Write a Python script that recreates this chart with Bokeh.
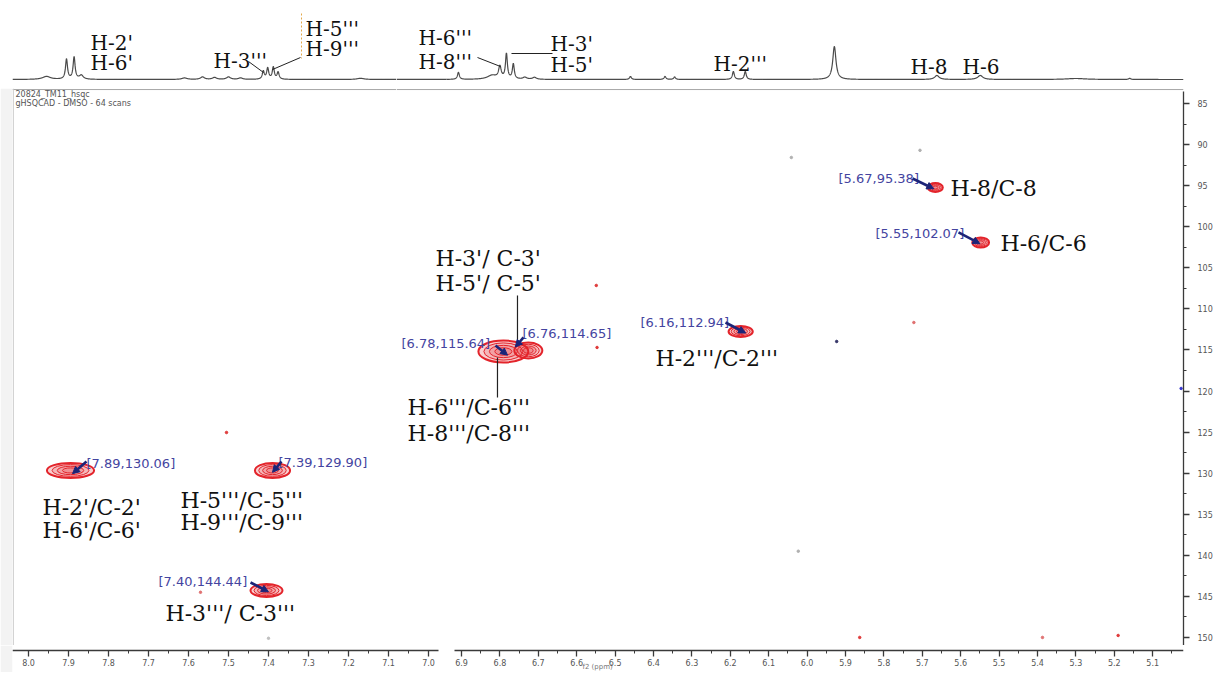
import numpy as np
from bokeh.plotting import figure
from bokeh.layouts import column, row
from bokeh.models import (Range1d, LinearAxis, SingleIntervalTicker, PrintfTickFormatter,
                          Arrow, NormalHead, Span, ColumnDataSource)
from bokeh.core.properties import value
from bokeh.embed import file_html
from bokeh.resources import INLINE

# ------------------------------------------------------------------ data
# 1H projection (top trace): peak position (ppm), height, half width (ppm)
h1_ppm = [7.955, 7.905, 7.886, 7.868, 7.61, 7.565, 7.535, 7.50, 7.47, 7.413, 7.402, 7.388, 7.376, 7.17,
          6.908, 6.82, 6.800, 6.783, 6.765, 6.735, 6.71, 6.46, 6.37, 6.345, 6.192, 6.161,
          5.929, 5.662, 5.549, 5.30, 5.16]
h1_int = [3, 20, 22, 4, 1.5, 2.5, 2, 2.5, 1.5, 8, 11, 12, 7, 1.2,
          7, 4, 12, 25, 15, 2, 2, 3, 3, 2.5, 8, 8,
          33, 4, 4, 1.0, 1.2]
h1_hw = [0.012, 0.003, 0.003, 0.006, 0.008, 0.006, 0.006, 0.006, 0.006, 0.003, 0.003, 0.003, 0.003, 0.01,
         0.003, 0.015, 0.004, 0.003, 0.003, 0.006, 0.006, 0.003, 0.003, 0.003, 0.003, 0.003,
         0.005, 0.007, 0.008, 0.03, 0.003]

# HSQC cross-peak contours: 1H ppm, 13C ppm, extent in 1H (ppm), extent in 13C (ppm)
xp_h = [7.895, 7.390, 7.405, 6.791, 6.726, 6.173, 5.666, 5.548]
xp_c = [129.67, 129.67, 144.28, 115.19, 115.07, 112.75, 95.23, 101.92]
xp_dh = [0.118, 0.088, 0.080, 0.130, 0.073, 0.063, 0.039, 0.044]
xp_dc = [1.83, 1.83, 1.58, 2.68, 1.95, 1.34, 1.10, 1.22]

# cursor read-outs printed on the spectrum (1H, 13C)
ann_h = [7.89, 7.39, 7.40, 6.78, 6.76, 6.16, 5.67, 5.55]
ann_c = [130.06, 129.90, 144.44, 115.64, 114.65, 112.94, 95.38, 102.07]

# isolated noise points
sp_h = [7.505, 6.547, 6.549, 5.722, 5.706, 6.041, 6.023, 5.863, 5.387, 5.19, 7.40, 5.923, 5.026, 7.57]
sp_c = [125.05, 114.7, 107.15, 111.66, 90.7, 91.57, 139.5, 150.0, 150.0, 149.76, 150.1, 113.97, 119.69, 144.5]
sp_col = ["#e03a3a", "#e03a3a", "#e03a3a", "#e07070", "#b0b0b0", "#b0b0b0", "#b0b0b0",
          "#e03a3a", "#e07070", "#e03a3a", "#c0c0c0", "#333366", "#3a3ad0", "#e07070"]

# assignments
top_text = ["H-2'", "H-6'", "H-3'''", "H-5'''", "H-9'''", "H-6'''", "H-8'''", "H-3'", "H-5'", "H-2'''", "H-8", "H-6"]
big_text = ["H-2'/C-2'", "H-6'/C-6'", "H-5'''/C-5'''", "H-9'''/C-9'''", "H-3'''/ C-3'''",
            "H-3'/ C-3'", "H-5'/ C-5'", "H-6'''/C-6'''", "H-8'''/C-8'''", "H-2'''/C-2'''", "H-8/C-8", "H-6/C-6"]
x_step = 0.1   # 1H tick spacing (ppm)
y_step = 5     # 13C tick spacing (ppm)

# ------------------------------------------------------------------ layout / positions
BREAK = 6.95
# label anchors; seg L = drawn on the 8.0-7.0 scale, R = drawn on the 6.9-5.0 scale
top_x = [7.845, 7.845, 7.5375, 7.3075, 7.3075, 7.012, 7.012, 6.6682, 6.6682, 6.2438, 5.7307, 5.5953]
top_y = [37, 17, 19, 51, 31, 42, 18, 36, 15, 16, 13, 13]
top_seg = ["L", "L", "L", "L", "L", "R", "R", "R", "R", "R", "R", "R"]

big_x = [7.965, 7.965, 7.62, 7.62, 7.6575, 6.9677, 6.9677, 7.0406, 7.0406, 6.3948, 5.6266, 5.4964]
big_y = [134.18, 136.98, 133.33, 136.0, 147.08, 103.87, 106.91, 122.0, 125.17, 116.04, 95.35, 102.04]
big_seg = ["L", "L", "L", "L", "L", "R", "R", "R", "R", "R", "R", "R"]

ann_lx = [7.855, 7.375, 7.675, 7.0563, 6.7411, 6.4339, 5.9182, 5.8219]
ann_ly = [128.82, 128.70, 143.19, 114.21, 113.0, 111.66, 94.13, 100.82]
ann_seg = ["L", "L", "L", "R", "R", "R", "R", "R"]
arr_sh = [7.855, 7.3675, 7.445, 6.8115, 6.7385, 6.2125, 5.7255, 5.6057]
arr_sc = [128.58, 128.58, 143.31, 114.46, 113.48, 111.66, 94.13, 100.70]

RED = "#e3242b"
LBL = "#44449f"
NAVY = "#1c2478"
INK = "#3a3a3a"
SERIF = "DejaVu Serif"
SANS = "DejaVu Sans"

# panel geometry (upper panels split at 7.08 ppm so that no label is cut; axis row split at the break)
LX = Range1d(8.04, 7.08)          # upper-left frames  (12..396 px)
RX = Range1d(7.06927, 5.0198)     # upper-right frames (396..1183 px), 6.9-5.0 scale
LX_TAIL = Range1d(7.08, 5.1125)   # 8.0-7.0 scale over the upper-right frames
AXL = Range1d(8.04, 6.955)        # axis row, left  (12..446 px)
AXR = Range1d(6.9391, 5.0198)     # axis row, right (446..1183 px)
YR = Range1d(150.98, 83.174)


def base_fig(width, height, xr, yr, bl, br, border="white"):
    p = figure(width=width, height=height, x_range=xr, y_range=yr,
               x_axis_type=None, y_axis_type=None, output_backend="svg",
               toolbar_location=None, min_border_left=bl, min_border_right=br,
               min_border_top=0, min_border_bottom=0)
    p.outline_line_color = None
    p.background_fill_color = "white"
    p.border_fill_color = border
    return p


tl = base_fig(396, 88, LX, Range1d(-9, 79), 12, 0)
tr = base_fig(819, 88, RX, Range1d(-9, 79), 0, 32)
bl = base_fig(396, 557, LX, YR, 12, 0, "#f3f3f3")
br = base_fig(819, 557, RX, YR, 0, 32)
al = base_fig(446, 27, AXL, Range1d(0, 27), 12, 0, "#f3f3f3")
ar = base_fig(769, 27, AXR, Range1d(0, 27), 0, 32)
tr.extra_x_ranges = {"l": LX_TAIL}


def trace(grid):
    g = np.asarray(grid)
    y = np.zeros_like(g)
    for p0, hh, w in zip(h1_ppm, h1_int, h1_hw):
        y += hh * w * w / ((g - p0) ** 2 + w * w)
    return y


g1 = np.linspace(LX.start, LX.end, 2400)
g2 = np.linspace(LX.end, BREAK + 0.005, 400)
g3 = np.linspace(AXR.start, RX.end, 4600)
TRACE = dict(line_color="#4a4a4a", line_width=1.2)
tl.line(g1, trace(g1), **TRACE)
tr.line(g2, trace(g2), x_range_name="l", **TRACE)
tr.line(g3, trace(g3), **TRACE)


def put_text(xs, ys, texts, segs, left_fig, right_fig, size, font, color):
    for key, fig in (("L", left_fig), ("R", right_fig)):
        sel = [i for i, s in enumerate(segs) if s == key]
        if not sel:
            continue
        src = ColumnDataSource(dict(x=[xs[i] for i in sel], y=[ys[i] for i in sel], t=[texts[i] for i in sel]))
        fig.text(x="x", y="y", text="t", source=src, text_font=value(font), text_font_size=size,
                 text_color=color, text_align="left", text_baseline="alphabetic")


# top assignment labels and leaders
put_text(top_x, top_y, top_text, top_seg, tl, tr, "20px", SERIF, "#111111")
tl.segment(x0=[7.45, 7.32], y0=[18, 22], x1=[7.4125, 7.39], y1=[7, 10], line_color="#222222", line_width=1)
tl.segment(x0=[7.3175], y0=[66], x1=[7.3175], y1=[21], line_color="#e3a84a", line_width=1, line_dash="2 2")
tr.segment(x0=[6.8583, 6.7698], y0=[22, 26], x1=[6.7984, 6.663], y1=[13, 26], line_color="#222222", line_width=1)

# contours
for fig, side in ((bl, True), (br, False)):
    idx = [i for i, h in enumerate(xp_h) if (h > BREAK) == side]
    for k, lw, fa in ((1.0, 2.0, 0.22), (0.78, 1.0, 0.14), (0.56, 1.0, 0.14), (0.34, 1.0, 0.14)):
        fig.ellipse(x=[xp_h[i] for i in idx], y=[xp_c[i] for i in idx],
                    width=[xp_dh[i] * k for i in idx], height=[xp_dc[i] * k for i in idx],
                    fill_color=RED, fill_alpha=fa, line_color=RED, line_width=lw)
    sidx = [i for i, h in enumerate(sp_h) if (h > BREAK) == side]
    fig.scatter(x=[sp_h[i] for i in sidx], y=[sp_c[i] for i in sidx], size=2.5,
                color=[sp_col[i] for i in sidx], marker="circle")

# cursor read-outs and arrows
ann_text = ["[%.2f,%.2f]" % (h, c) for h, c in zip(ann_h, ann_c)]
put_text(ann_lx, ann_ly, ann_text, ann_seg, bl, br, "13px", SANS, LBL)
for fig, side in ((bl, True), (br, False)):
    idx = [i for i, h in enumerate(ann_h) if (h > BREAK) == side]
    src = ColumnDataSource(dict(xs=[arr_sh[i] for i in idx], ys=[arr_sc[i] for i in idx],
                                xe=[ann_h[i] for i in idx], ye=[ann_c[i] for i in idx]))
    fig.add_layout(Arrow(source=src, x_start="xs", y_start="ys", x_end="xe", y_end="ye",
                         line_color=NAVY, line_width=2.6,
                         end=NormalHead(size=7, fill_color=NAVY, line_color=NAVY)))

# assignment labels in 2D
put_text(big_x, big_y, big_text, big_seg, bl, br, "22px", SERIF, "#111111")
br.segment(x0=[6.7542, 6.8063], y0=[108.37, 115.92], x1=[6.7542, 6.8063], y1=[113.85, 120.79],
           line_color="#222222", line_width=1.2)

# header
bl.text(x=[8.0325, 8.0325], y=[83.85, 85.05], text=["20824_TM11_hsqc", "gHSQCAD - DMSO - 64 scans"],
        text_font=value(SANS), text_font_size="8px", text_color="#555555", text_baseline="alphabetic")

# frame lines
for fig in (bl, br):
    fig.add_layout(Span(location=83.3, dimension="width", line_color="#a8a8a8", line_width=1))
bl.add_layout(Span(location=8.038, dimension="height", line_color="#c8c8c8", line_width=1))


def style_axis(ax):
    ax.axis_line_color = INK
    ax.axis_line_width = 1.3
    ax.major_tick_line_color = INK
    ax.major_tick_line_width = 1.3
    ax.minor_tick_line_color = INK
    ax.major_tick_in = 0
    ax.major_tick_out = 6
    ax.minor_tick_in = 0
    ax.minor_tick_out = 3
    ax.major_label_text_font = SANS
    ax.major_label_text_font_size = "8px"
    ax.major_label_text_color = "#555555"
    ax.major_label_standoff = 2
    return ax


for fig, bnds in ((al, (6.975, 8.04)), (ar, (5.0198, 6.917))):
    ax = style_axis(LinearAxis(ticker=SingleIntervalTicker(interval=x_step, num_minor_ticks=2),
                               formatter=PrintfTickFormatter(format="%.1f"), bounds=bnds))
    ax.fixed_location = 22
    fig.add_layout(ax, "below")
ar.text(x=[6.585], y=[6], text=["f2 (ppm)"], text_font=value(SANS), text_font_size="7px",
        text_color="#777777", text_baseline="alphabetic")

yax = style_axis(LinearAxis(ticker=SingleIntervalTicker(interval=y_step, num_minor_ticks=2),
                            bounds=(83.6, 150.98)))
yax.major_label_standoff = 8
br.add_layout(yax, "right")

layout = column(row(tl, tr), row(bl, br), row(al, ar))
open("out.html", "w").write(file_html(layout, INLINE))
